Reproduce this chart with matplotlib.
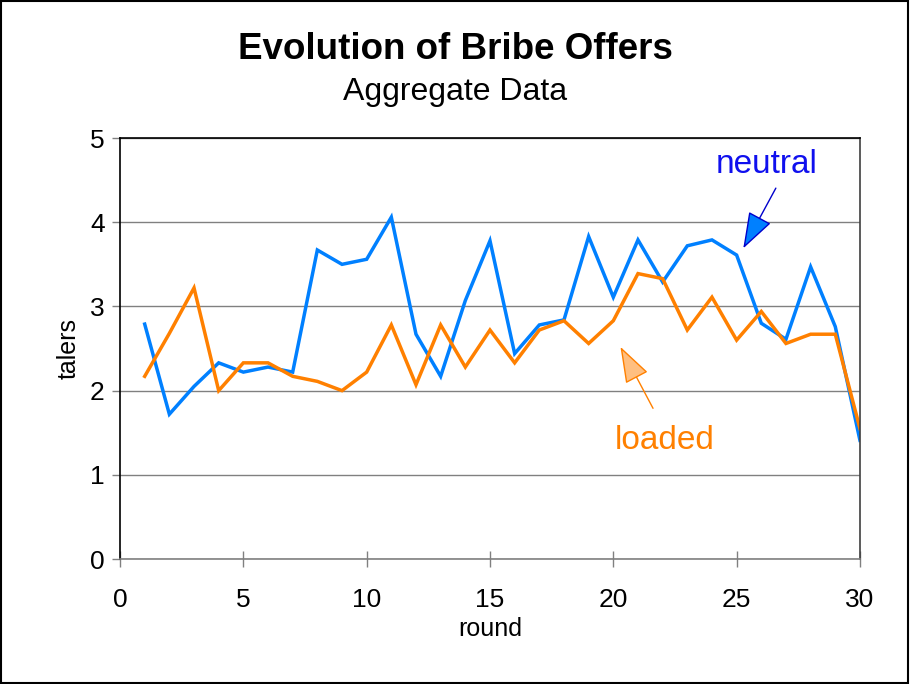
import numpy as np
import matplotlib.pyplot as plt
from matplotlib.patches import Rectangle

plt.rcParams['font.family'] = ['Liberation Sans', 'DejaVu Sans']

rounds = list(range(1, 31))
neutral = [2.79, 1.72, 2.05, 2.33, 2.22, 2.28, 2.22, 3.67, 3.50, 3.56,
           4.06, 2.67, 2.17, 3.07, 3.78, 2.44, 2.78, 2.84, 3.83, 3.11,
           3.79, 3.29, 3.72, 3.79, 3.61, 2.80, 2.61, 3.47, 2.76, 1.41]
loaded = [2.17, 2.68, 3.22, 2.00, 2.33, 2.33, 2.17, 2.11, 2.00, 2.22,
          2.78, 2.07, 2.78, 2.28, 2.72, 2.33, 2.72, 2.83, 2.56, 2.83,
          3.39, 3.33, 2.72, 3.11, 2.60, 2.94, 2.56, 2.67, 2.67, 1.55]

blue = '#0080ff'
orange = '#ff8000'

fig = plt.figure(figsize=(9.1, 6.84), dpi=100)
ax = fig.add_axes([0.1319, 0.1827, 0.8131, 0.6155])

ax.set_xlim(0, 30)
ax.set_ylim(0, 5)
ax.set_xticks(range(0, 31, 5))
ax.set_yticks(range(0, 6))
ax.grid(axis='y', color='#808080', linewidth=1.0)
ax.set_axisbelow(True)

ax.plot(rounds, neutral, color=blue, linewidth=2.5, solid_joinstyle='miter')
ax.plot(rounds, loaded, color=orange, linewidth=2.5, solid_joinstyle='miter')

for s in ['left', 'top']:
    ax.spines[s].set_color('black')
    ax.spines[s].set_linewidth(1.2)
ax.spines['right'].set_color('#404040')
ax.spines['right'].set_linewidth(1.2)
ax.spines['bottom'].set_color('#808080')
ax.spines['bottom'].set_linewidth(1.2)

ax.tick_params(axis='x', direction='inout', length=11, color='#808080',
               width=1, labelsize=19, pad=15)
ax.tick_params(axis='y', direction='out', length=6, color='#808080',
               width=1, labelsize=19, pad=5)
ax.set_xlabel('round', fontsize=18, labelpad=4)
ax.set_ylabel('talers', fontsize=18, labelpad=7)

fig.text(0.5, 0.928, 'Evolution of Bribe Offers', ha='center', va='center',
         fontsize=26.5, fontweight='bold')
fig.text(0.5, 0.866, 'Aggregate Data', ha='center', va='center', fontsize=23)

ax.text(26.22, 4.68, 'neutral', color='#1010ee', fontsize=24,
        ha='center', va='center')
ax.annotate('', xy=(25.27, 3.69), xytext=(26.59, 4.405),
            arrowprops=dict(arrowstyle='-|>,head_length=1.15,head_width=0.4',
                            mutation_scale=20, fc=blue, ec='#0000cc', lw=1,
                            shrinkA=0, shrinkB=0))

ax.text(22.07, 1.41, 'loaded', color=orange, fontsize=24,
        ha='center', va='center')
ax.annotate('', xy=(20.29, 2.52), xytext=(21.61, 1.79),
            arrowprops=dict(arrowstyle='-|>,head_length=1.15,head_width=0.4',
                            mutation_scale=20, fc='#ffbf80', ec=orange, lw=1,
                            shrinkA=0, shrinkB=0))

fig.patches.append(Rectangle((0.001, 0.001), 0.997, 0.997, transform=fig.transFigure,
                             fill=False, edgecolor='black', linewidth=1.5))

fig.savefig('out.png', dpi=100)
